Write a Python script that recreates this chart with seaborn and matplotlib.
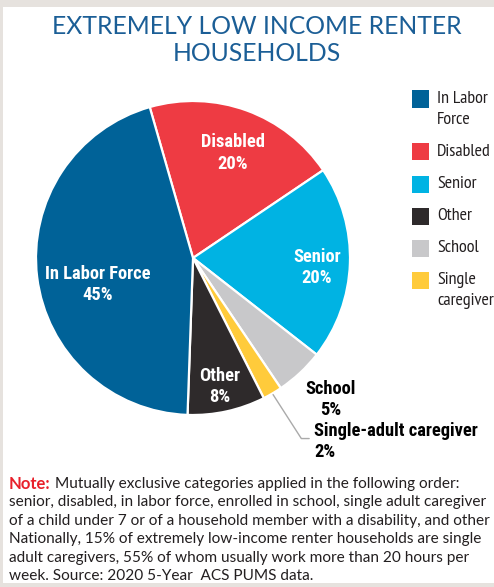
import matplotlib
matplotlib.use("Agg")
import matplotlib.pyplot as plt
import seaborn as sns
from matplotlib.patches import Rectangle

# data (clockwise from Disabled)
categories = ["Disabled", "Senior", "School", "Single caregiver", "Other", "In Labor Force"]
shares = [20, 20, 5, 2, 8, 45]
colors = ["#EE3B43", "#00B3E3", "#C8C8CA", "#FFCB3B", "#2E2A2B", "#006298"]

legend_order = ["In Labor Force", "Disabled", "Senior", "Other", "School", "Single caregiver"]
legend_labels = ["In Labor\nForce", "Disabled", "Senior", "Other", "School", "Single\ncaregiver"]

sns.set_theme(style="white")
cond = ["Roboto Condensed", "PT Sans Narrow", "DejaVu Sans"]
narrow = ["PT Sans Narrow", "Roboto Condensed", "DejaVu Sans"]
plt.rcParams["font.family"] = ["Lato", "DejaVu Sans"]

W, H = 494, 587
fig = plt.figure(figsize=(W / 100, H / 100), dpi=100)
fig.patch.set_facecolor("#E6E2DE")
fig.patches.append(Rectangle((3 / W, 1 - 583 / H), 1, (583 - 7) / H,
                             transform=fig.transFigure, facecolor="white",
                             edgecolor="none", zorder=-5))

fig.text(257 / W, 1 - 40 / H, "EXTREMELY LOW INCOME RENTER\nHOUSEHOLDS",
         ha="center", va="center", fontsize=17.8, color="#1B5E96",
         linespacing=1.18)

# pie
cx, cy, r = 193, 258, 157
ax = fig.add_axes([(cx - r) / W, (H - cy - r) / H, 2 * r / W, 2 * r / H])
wedges, _ = ax.pie(shares, colors=colors, startangle=106, counterclock=False,
                   radius=1, wedgeprops=dict(edgecolor="white", linewidth=1.6))
ax.set_xlim(-1, 1)
ax.set_ylim(-1, 1)
ax.set_aspect("equal")
ax.axis("off")

def lab(x, y, s, c="white", ha="center"):
    ax.text(x, y, s, ha=ha, va="center", color=c, fontsize=13.3,
            fontweight="heavy", family=cond, linespacing=1.25, clip_on=False)

lab(0.255, 0.67, "Disabled\n20%")
lab(0.79, -0.06, "Senior\n20%")
lab(-0.605, -0.17, "In Labor Force\n45%")
lab(0.172, -0.82, "Other\n8%")
lab(0.879, -0.9, "School\n5%", c="black")
lab(0.77, -1.105, "Single-adult caregiver", c="black", ha="left")
lab(0.77, -1.235, "2%", c="black", ha="left")
ax.plot([0.51, 0.69, 0.74], [-0.87, -1.15, -1.15], color="#AAAAAA",
        lw=1.0, clip_on=False)

# legend, drawn by hand so the swatch lines up with the first text line
row_y = 99
for name, label in zip(legend_order, legend_labels):
    col = colors[categories.index(name)]
    fig.patches.append(Rectangle((412 / W, 1 - (row_y + 8.5) / H), 17 / W, 17 / H,
                                 transform=fig.transFigure, facecolor=col,
                                 edgecolor="none"))
    for j, part in enumerate(label.split("\n")):
        fig.text(437 / W, 1 - (row_y + j * 21) / H, part, va="center",
                 ha="left", fontsize=13, family=narrow, color="#231F20")
    row_y += 32 + 21 * label.count("\n")

# note
note_lines = [
    "Mutually exclusive categories applied in the following order:",
    "senior, disabled, in labor force, enrolled in school, single adult caregiver",
    "of a child under 7 or of a household member with a disability, and other",
    "Nationally, 15% of extremely low-income renter households are single",
    "adult caregivers, 55% of whom usually work more than 20 hours per",
    "week. Source: 2020 5-Year  ACS PUMS data.",
]
fig.text(9 / W, 1 - 484 / H, "Note:", color="#E8202A", fontweight="bold",
         fontsize=12, va="center")
for i, line in enumerate(note_lines):
    x = 55 if i == 0 else 9
    fig.text(x / W, 1 - (484 + i * 18.4) / H, line, color="#231F20",
             fontsize=11.1, va="center")

fig.savefig("out.png", dpi=100, facecolor=fig.get_facecolor())
